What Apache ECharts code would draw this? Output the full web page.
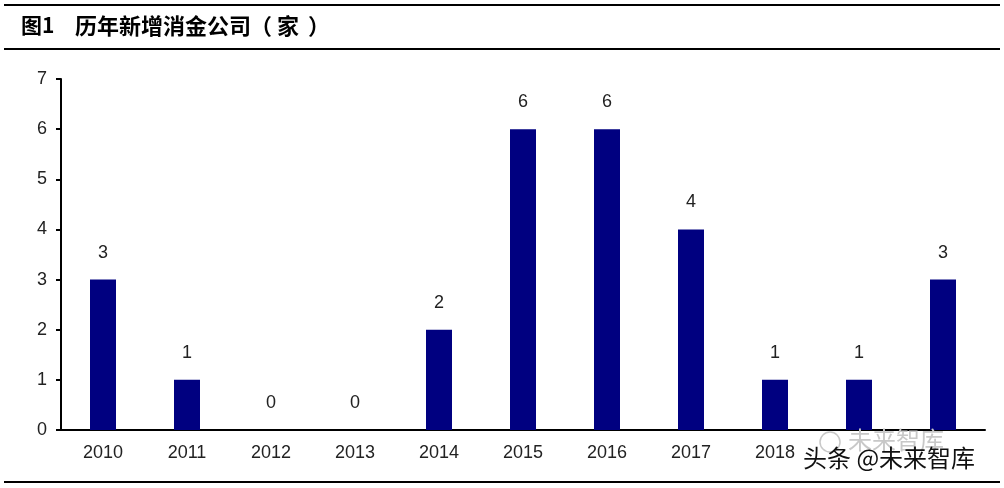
<!DOCTYPE html>
<html>
<head>
<meta charset="utf-8">
<script src="https://cdn.jsdelivr.net/npm/echarts@6/dist/echarts.min.js"></script>
<style>
html,body{margin:0;padding:0;background:#fff;}
#chart{width:1004px;height:488px;}
</style>
</head>
<body>
<div id="chart"></div>
<script>
const categories = ['2010','2011','2012','2013','2014','2015','2016','2017','2018','2019','2020'];
const values = [3,1,0,0,2,6,6,4,1,1,3];
const yTicks = {min:0, max:7, interval:1};
const titleNum = '图1';
const titleText = '历年新增消金公司';
const titleUnit = ['（','家','）'];
const watermark = '头条 @未来智库';
const watermark2 = '未来智库';

const titleFont = {fontSize:22, fontWeight:'bold', fill:'#000', fontFamily:'Noto Sans CJK SC'};
const unitLeft = [250, 277, 308];

const chart = echarts.init(document.getElementById('chart'));
chart.setOption({
  animation:false,
  backgroundColor:'#fff',
  grid:{left:61, right:19, top:79, bottom:58, containLabel:false},
  xAxis:{
    type:'category', data:categories,
    axisLine:{show:true, lineStyle:{color:'#000', width:2}},
    axisTick:{show:false},
    axisLabel:{color:'#222', fontSize:18, fontFamily:'Liberation Sans, Arial', margin:14}
  },
  yAxis:{
    type:'value', min:yTicks.min, max:yTicks.max, interval:yTicks.interval,
    splitLine:{show:false},
    axisLine:{show:true, lineStyle:{color:'#000', width:2}},
    axisTick:{show:true, length:5, lineStyle:{color:'#000', width:2}},
    axisLabel:{color:'#222', fontSize:18, fontFamily:'Liberation Sans, Arial', margin:14}
  },
  series:[{
    type:'bar', data:values, barWidth:26,
    itemStyle:{color:'#000080'},
    label:{show:true, position:'top', distance:18, color:'#222', fontSize:18, fontFamily:'Liberation Sans, Arial'}
  }],
  graphic:[
    {type:'rect', z:100, shape:{x:4, y:4, width:996, height:2}, style:{fill:'#000'}},
    {type:'rect', z:100, shape:{x:4, y:48, width:996, height:2}, style:{fill:'#000'}},
    {type:'rect', z:100, shape:{x:4, y:481, width:996, height:2}, style:{fill:'#000'}},
    {type:'text', z:100, left:21, top:15, style:Object.assign({text:titleNum}, titleFont, {fontSize:21})},
    {type:'text', z:100, left:75, top:15, style:Object.assign({text:titleText}, titleFont)}
  ].concat(titleUnit.map((c,i)=>({type:'text', z:100, left:unitLeft[i], top:15, style:Object.assign({text:c}, titleFont)}))).concat([
    {type:'rect', z:100, shape:{x:798, y:437, width:194, height:40}, style:{fill:'#fff'}},
    {type:'text', z:101, left:848, top:428, style:{text:watermark2, fontSize:24, fill:'#c8c8c8', fontFamily:'Noto Sans CJK SC'}},
    {type:'circle', z:101, shape:{cx:830, cy:442, r:10}, style:{fill:'none', stroke:'#c8c8c8', lineWidth:1.5}},
    {type:'text', z:102, left:803, top:446, style:{text:watermark, fontSize:24, fill:'#111', fontFamily:'Noto Sans CJK SC'}}
  ])
});
</script>
</body>
</html>
